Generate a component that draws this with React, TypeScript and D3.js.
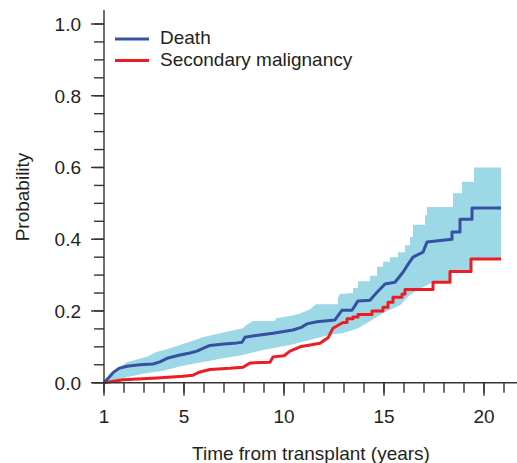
import { useMemo } from "react";
import { scaleLinear, line, range } from "d3";

// values: [years, probability]
const deathCurve: [number, number][] = [
	[1, 0], [1.2, 0.012], [1.45, 0.028], [1.75, 0.04], [2.15, 0.046], [2.8, 0.05], [3.45, 0.052],
	[3.8, 0.058], [4.15, 0.068], [4.8, 0.077], [5.3, 0.083], [5.65, 0.088], [6.0, 0.097], [6.3, 0.104],
	[7.0, 0.108], [7.65, 0.111], [7.9, 0.113], [8.05, 0.127], [8.8, 0.133], [9.45, 0.138],
	[10.45, 0.147], [10.9, 0.155], [11.15, 0.164], [11.65, 0.17], [12.55, 0.175],
	[12.9, 0.202], [13.4, 0.202], [13.7, 0.228], [14.3, 0.23], [14.65, 0.252], [15.05, 0.275],
	[15.55, 0.28], [15.95, 0.308], [16.2, 0.33], [16.45, 0.35], [16.95, 0.364], [17.15, 0.392],
	[18.4, 0.4], [18.4, 0.42], [18.8, 0.42], [18.8, 0.456], [19.4, 0.456], [19.4, 0.487], [20.85, 0.487],
];

const malignancyCurve: [number, number][] = [
	[1, 0], [1.95, 0.008], [3.65, 0.013], [4.95, 0.018], [5.45, 0.021], [5.8, 0.03],
	[6.3, 0.037], [7.3, 0.04], [7.95, 0.043], [8.3, 0.055], [9.3, 0.057], [9.45, 0.072],
	[10.0, 0.075], [10.3, 0.088], [10.8, 0.1], [11.8, 0.11], [12.2, 0.125], [12.45, 0.152],
	[12.95, 0.168], [13.15, 0.168], [13.15, 0.178], [13.45, 0.178], [13.45, 0.183], [13.7, 0.183],
	[13.7, 0.19], [14.4, 0.19], [14.4, 0.2], [14.95, 0.2], [14.95, 0.21], [15.2, 0.21],
	[15.2, 0.224], [15.45, 0.224], [15.45, 0.238], [15.9, 0.238], [15.9, 0.247], [16.05, 0.247],
	[16.05, 0.26], [17.45, 0.26], [17.45, 0.28], [18.3, 0.28], [18.3, 0.31], [19.35, 0.31],
	[19.35, 0.345], [20.85, 0.345],
];

const bandUpper: [number, number][] = [
	[1, 0], [1.65, 0.04], [2.15, 0.057], [3.15, 0.072], [3.65, 0.086], [4.15, 0.093],
	[4.95, 0.108], [5.95, 0.127], [6.95, 0.14], [7.95, 0.152], [8.1, 0.16], [8.45, 0.172],
	[9.55, 0.172], [9.6, 0.18], [10.3, 0.186], [10.8, 0.193], [11.3, 0.205], [11.6, 0.219],
	[12.7, 0.219], [12.7, 0.236], [12.8, 0.247], [13.45, 0.25], [13.45, 0.264], [13.7, 0.264],
	[13.7, 0.283], [14.3, 0.283], [14.3, 0.298], [14.65, 0.298], [14.65, 0.323], [14.95, 0.323],
	[14.95, 0.337], [15.3, 0.337], [15.3, 0.35], [15.7, 0.35], [15.7, 0.364], [16.05, 0.364],
	[16.05, 0.383], [16.3, 0.383], [16.3, 0.406], [16.45, 0.406], [16.45, 0.44], [17.05, 0.44],
	[17.05, 0.467], [17.15, 0.467], [17.15, 0.49], [18.45, 0.49], [18.45, 0.528], [18.9, 0.528],
	[18.9, 0.56], [19.5, 0.56], [19.5, 0.6], [20.85, 0.6],
];

const bandLower: [number, number][] = [
	[1, 0], [1.95, 0.013], [2.95, 0.025], [3.95, 0.033], [4.95, 0.047], [5.95, 0.058],
	[6.95, 0.068], [7.95, 0.077], [8.95, 0.091], [10.3, 0.105], [11.3, 0.119], [11.8, 0.127],
	[12.45, 0.135], [12.95, 0.138], [13.7, 0.152], [14.4, 0.175], [14.95, 0.194], [15.8, 0.216],
	[16.3, 0.245], [16.8, 0.262], [17.45, 0.28], [18.3, 0.28], [18.3, 0.31], [19.35, 0.31],
	[19.35, 0.345], [20.85, 0.345],
];

const xMajorTicks = [1, 5, 10, 15, 20];
const xMinorTicks = range(1, 22);
const yMajorTicks = [0, 0.2, 0.4, 0.6, 0.8, 1.0];
const yMinorTicks = range(0, 21).map((i) => i * 0.05);

const seriesNames = ["Death", "Secondary malignancy"];
const seriesColors = ["#3650a2", "#ec1c24"];

const W = 517;
const H = 463;
const font = "'Liberation Sans', Arial, Helvetica, sans-serif";
const ink = "#231f20";

export default function App() {
	const x = useMemo(() => scaleLinear().domain([1, 21]).range([104, 504]), []);
	const y = useMemo(() => scaleLinear().domain([0, 1]).range([382.7, 24]), []);

	const path = line<[number, number]>()
		.x((d) => x(d[0]))
		.y((d) => y(d[1]));

	const bandPath =
		(path([...bandUpper, ...[...bandLower].reverse()]) ?? "") + "Z";

	const x0 = x(1);
	const y0 = y(0);

	return (
		<div style={{ position: "fixed", left: 0, top: 0 }}>
			<svg width={W} height={H} style={{ display: "block", background: "#fff" }}>
				<path d={bandPath} fill="#9dd8e7" stroke="none" />
				<path
					d={path(malignancyCurve) ?? ""}
					fill="none"
					stroke={seriesColors[1]}
					strokeWidth={3}
					strokeLinejoin="round"
				/>
				<path
					d={path(deathCurve) ?? ""}
					fill="none"
					stroke={seriesColors[0]}
					strokeWidth={3}
					strokeLinejoin="round"
				/>

				{/* axes */}
				<g stroke="#333" strokeWidth={1.4} fill="none">
					<line x1={x0} x2={x0} y1={10} y2={y0} />
					<line x1={92} x2={W} y1={y0} y2={y0} />
					{yMinorTicks.map((t) => (
						<line key={"ym" + t} x1={x0 - 10} x2={x0} y1={y(t)} y2={y(t)} />
					))}
					{yMajorTicks.map((t) => (
						<line key={"yM" + t} x1={x0 - 13} x2={x0} y1={y(t)} y2={y(t)} />
					))}
					{xMinorTicks.map((t) => (
						<line key={"xm" + t} x1={x(t)} x2={x(t)} y1={y0} y2={y0 + 10} />
					))}
					{xMajorTicks.map((t) => (
						<line key={"xM" + t} x1={x(t)} x2={x(t)} y1={y0} y2={y0 + 13} />
					))}
				</g>

				<g fontFamily={font} fontSize={19} fill={ink}>
					{yMajorTicks.map((t) => (
						<text key={"yl" + t} x={81} y={y(t) + 6.8} textAnchor="end">
							{t.toFixed(1)}
						</text>
					))}
					{xMajorTicks.map((t) => (
						<text key={"xl" + t} x={x(t)} y={423} textAnchor="middle">
							{t}
						</text>
					))}
					<text x={311} y={459.5} textAnchor="middle">
						Time from transplant (years)
					</text>
					<text transform="translate(29,197) rotate(-90)" textAnchor="middle">
						Probability
					</text>
				</g>

				{/* legend */}
				<g fontFamily={font} fontSize={19} fill={ink}>
					{seriesNames.map((name, i) => (
						<g key={name} transform={`translate(0,${39 + i * 21.5})`}>
							<line x1={115} x2={149} y1={0} y2={0} stroke={seriesColors[i]} strokeWidth={3} />
							<text x={160} y={5}>
								{name}
							</text>
						</g>
					))}
				</g>
			</svg>
		</div>
	);
}
